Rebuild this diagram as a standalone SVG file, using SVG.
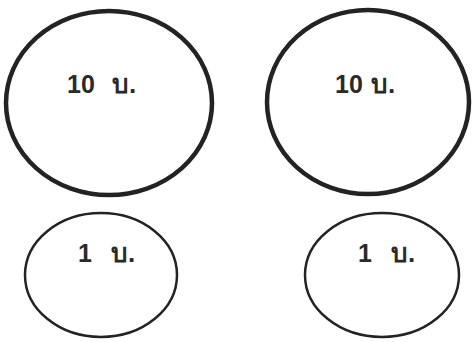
<svg xmlns="http://www.w3.org/2000/svg" width="474" height="342" viewBox="0 0 474 342">
<style>
.big{fill:none;stroke:#232323;stroke-width:4.5}
.small{fill:none;stroke:#232323;stroke-width:2.5}
.t{font-family:"Liberation Sans","Noto Sans",sans-serif;font-size:25px;font-weight:bold;fill:#2a2a2a}
.th{font-family:"Liberation Sans","Noto Sans",sans-serif;font-size:26px;font-weight:bold;fill:#2a2a2a}
</style>
<rect width="474" height="342" fill="#ffffff"/>
<g id="coin-10-left">
<ellipse class="big" cx="109" cy="103" rx="103" ry="92"/>
<text class="t" x="67" y="93">10</text><text class="th" x="112" y="93">บ.</text>
</g>
<g id="coin-10-right">
<ellipse class="big" cx="368" cy="102" rx="101" ry="92"/>
<text class="t" x="335" y="93">10</text><text class="th" x="371" y="93">บ.</text>
</g>
<g id="coin-1-left">
<ellipse class="small" cx="101" cy="275" rx="76" ry="62"/>
<text class="t" x="78" y="262">1</text><text class="th" x="111" y="262">บ.</text>
</g>
<g id="coin-1-right">
<ellipse class="small" cx="382" cy="275" rx="77" ry="62"/>
<text class="t" x="358" y="262">1</text><text class="th" x="391" y="262">บ.</text>
</g>
<g id="connectors"></g>
</svg>
